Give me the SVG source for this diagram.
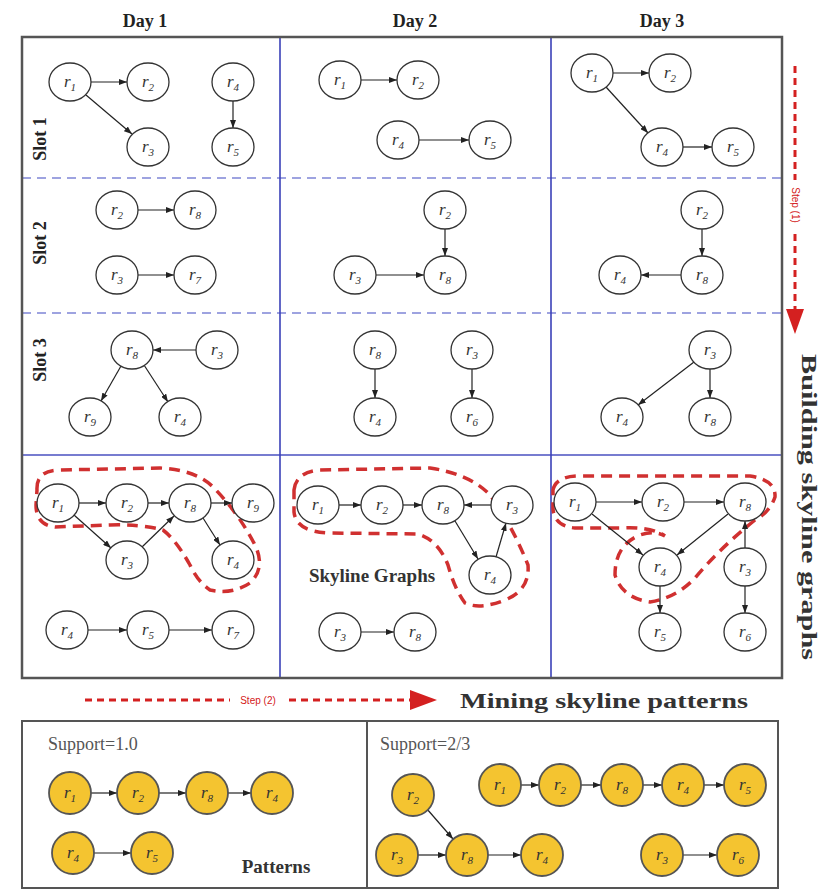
<svg xmlns="http://www.w3.org/2000/svg" width="831" height="894" viewBox="0 0 831 894">
<style>
.n ellipse{fill:#fff;stroke:#333;stroke-width:1.3}
.y circle{fill:#f4c430;stroke:#555;stroke-width:1.8}
.lab{font-family:"Liberation Serif",serif;font-style:italic;font-size:17px;fill:#333;text-anchor:middle}
.sub{font-size:11px}
.e line{stroke:#222;stroke-width:1.2;marker-end:url(#ah)}
.hd{font-family:"Liberation Serif",serif;font-weight:bold;font-size:18px;fill:#222;text-anchor:middle}
.sup{font-family:"Liberation Serif",serif;font-size:18px;fill:#555}
.stp{font-family:"Liberation Sans",sans-serif;font-size:10px;fill:#d42020;text-anchor:middle}
.red{fill:none;stroke:#d03030;stroke-width:3.5;stroke-dasharray:11,7}
</style>
<defs>
<marker id="ah" viewBox="0 0 8 6" refX="8" refY="3" markerWidth="8" markerHeight="6" markerUnits="userSpaceOnUse" orient="auto"><path d="M0,0L8,3L0,6z" fill="#222"/></marker>
</defs>
<rect width="831" height="894" fill="#fff"/>
<!-- headers -->
<text class="hd" x="145" y="27">Day 1</text>
<text class="hd" x="415" y="27">Day 2</text>
<text class="hd" x="662" y="27">Day 3</text>
<!-- grid -->
<g id="grid">
<line x1="22" y1="178" x2="782" y2="178" stroke="#7f85d6" stroke-width="1.6" stroke-dasharray="9,6"/>
<line x1="22" y1="313" x2="782" y2="313" stroke="#7f85d6" stroke-width="1.6" stroke-dasharray="9,6"/>
<line x1="22" y1="455" x2="782" y2="455" stroke="#4a50c0" stroke-width="1.6"/>
<line x1="280" y1="37" x2="280" y2="678" stroke="#3a40b8" stroke-width="1.6"/>
<line x1="551" y1="37" x2="551" y2="678" stroke="#3a40b8" stroke-width="1.6"/>
<rect x="22" y="37" width="760" height="641" fill="none" stroke="#555" stroke-width="2.5"/>
</g>
<text class="hd" transform="translate(46,139) rotate(-90)">Slot 1</text>
<text class="hd" transform="translate(46,243) rotate(-90)">Slot 2</text>
<text class="hd" transform="translate(46,360) rotate(-90)">Slot 3</text>
<!-- red dashed outlines -->
<g id="skyline-outlines">
<path class="red" d="M37,490 Q36,470 60,470 L160,468 Q195,470 212,486 Q238,512 255,545 Q266,568 250,583 Q232,595 210,590 Q198,582 190,565 Q176,540 163,530 Q140,524 110,525 L55,527 Q36,525 36,505 Z"/>
<path class="red" d="M294,490 Q296,472 320,470 L430,468 Q470,474 490,495 Q512,525 528,565 Q530,590 505,600 Q480,610 465,603 Q455,590 448,565 Q438,540 418,534 L330,533 Q296,532 294,512 Z"/>
<path class="red" d="M553,490 Q556,476 580,476 L750,476 Q776,480 775,497 Q770,512 755,520 Q720,548 695,578 Q676,598 650,602 Q622,598 615,575 Q615,545 640,535 Q655,530 665,536 Q650,526 620,528 L575,528 Q552,526 553,505 Z"/>
</g>
<text x="372" y="582" font-family="Liberation Serif,serif" font-weight="bold" font-size="19" fill="#333" text-anchor="middle">Skyline Graphs</text>
<!-- step arrows -->
<g id="step1">
<line x1="795" y1="66" x2="795" y2="310" stroke="#d42020" stroke-width="3" stroke-dasharray="7,5"/>
<polygon points="786,309 804,309 795,334" fill="#d42020"/>
<rect x="788" y="180" width="14" height="50" fill="#fff"/>
<text class="stp" transform="translate(792,205) rotate(90)">Step (1)</text>
</g>
<text transform="translate(802,507) rotate(90)" font-family="Liberation Serif,serif" font-weight="bold" font-size="20" fill="#333" text-anchor="middle" textLength="306" lengthAdjust="spacingAndGlyphs">Building skyline graphs</text>
<g id="step2">
<line x1="85" y1="700" x2="412" y2="700" stroke="#d42020" stroke-width="3" stroke-dasharray="7,5"/>
<polygon points="410,690 410,710 437,700" fill="#d42020"/>
<rect x="230" y="693" width="56" height="14" fill="#fff"/>
<text class="stp" x="258" y="704">Step (2)</text>
</g>
<text x="604" y="708" font-family="Liberation Serif,serif" font-weight="bold" font-size="21" fill="#333" text-anchor="middle" textLength="288" lengthAdjust="spacingAndGlyphs">Mining skyline patterns</text>
<!-- bottom box -->
<rect x="22" y="721" width="756" height="167" fill="none" stroke="#555" stroke-width="2"/>
<line x1="367" y1="721" x2="367" y2="888" stroke="#555" stroke-width="2"/>
<text class="sup" x="48" y="750">Support=1.0</text>
<text class="sup" x="380" y="750">Support=2/3</text>
<text x="276" y="873" font-family="Liberation Serif,serif" font-weight="bold" font-size="19" fill="#333" text-anchor="middle">Patterns</text>

<!-- connectors -->
<g id="connectors" class="e">
<line x1="91" y1="82" x2="127" y2="82"/>
<line x1="86" y1="95" x2="132" y2="134"/>
<line x1="233" y1="101" x2="233" y2="128"/>
<line x1="361" y1="80" x2="397" y2="80"/>
<line x1="419" y1="140" x2="469" y2="140"/>
<line x1="613" y1="73" x2="649" y2="73"/>
<line x1="606" y1="87" x2="648" y2="133"/>
<line x1="683" y1="147" x2="712" y2="147"/>
<line x1="138" y1="210" x2="174" y2="210"/>
<line x1="138" y1="275" x2="174" y2="275"/>
<line x1="445" y1="229" x2="445" y2="256"/>
<line x1="376" y1="275" x2="424" y2="275"/>
<line x1="702" y1="229" x2="702" y2="256"/>
<line x1="681" y1="275" x2="641" y2="275"/>
<line x1="196" y1="350" x2="153" y2="350"/>
<line x1="121" y1="366" x2="101" y2="401"/>
<line x1="144" y1="365" x2="168" y2="402"/>
<line x1="375" y1="369" x2="375" y2="398"/>
<line x1="472" y1="369" x2="472" y2="398"/>
<line x1="694" y1="362" x2="638" y2="405"/>
<line x1="710" y1="369" x2="710" y2="398"/>
<line x1="79" y1="503" x2="106" y2="503"/>
<line x1="148" y1="503" x2="169" y2="503"/>
<line x1="211" y1="503" x2="232" y2="503"/>
<line x1="74" y1="515" x2="111" y2="548"/>
<line x1="142" y1="547" x2="174" y2="516"/>
<line x1="203" y1="518" x2="220" y2="545"/>
<line x1="88" y1="630" x2="127" y2="630"/>
<line x1="169" y1="630" x2="212" y2="630"/>
<line x1="339" y1="505" x2="361" y2="505"/>
<line x1="403" y1="505" x2="422" y2="505"/>
<line x1="491" y1="505" x2="464" y2="505"/>
<line x1="455" y1="521" x2="478" y2="559"/>
<line x1="496" y1="557" x2="506" y2="523"/>
<line x1="361" y1="632" x2="394" y2="632"/>
<line x1="596" y1="502" x2="642" y2="502"/>
<line x1="684" y1="502" x2="724" y2="502"/>
<line x1="592" y1="514" x2="643" y2="555"/>
<line x1="728" y1="514" x2="677" y2="555"/>
<line x1="745" y1="548" x2="745" y2="521"/>
<line x1="660" y1="586" x2="660" y2="613"/>
<line x1="745" y1="586" x2="745" y2="613"/>
<line x1="91" y1="793" x2="117" y2="793"/>
<line x1="159" y1="793" x2="186" y2="793"/>
<line x1="228" y1="793" x2="251" y2="793"/>
<line x1="94" y1="853" x2="131" y2="853"/>
<line x1="427" y1="809" x2="453" y2="839"/>
<line x1="418" y1="855" x2="446" y2="855"/>
<line x1="488" y1="855" x2="521" y2="855"/>
<line x1="521" y1="785" x2="539" y2="785"/>
<line x1="581" y1="785" x2="601" y2="785"/>
<line x1="643" y1="785" x2="662" y2="785"/>
<line x1="704" y1="785" x2="724" y2="785"/>
<line x1="683" y1="855" x2="717" y2="855"/>
</g>

<!-- nodes: Day1 slot1 -->
<g id="d1s1-r1" class="n"><ellipse cx="70" cy="82" rx="21" ry="19"/><text class="lab" x="70" y="87">r<tspan class="sub" dy="4">1</tspan></text></g>
<g id="d1s1-r2" class="n"><ellipse cx="148" cy="82" rx="21" ry="19"/><text class="lab" x="148" y="87">r<tspan class="sub" dy="4">2</tspan></text></g>
<g id="d1s1-r3" class="n"><ellipse cx="148" cy="147" rx="21" ry="19"/><text class="lab" x="148" y="152">r<tspan class="sub" dy="4">3</tspan></text></g>
<g id="d1s1-r4" class="n"><ellipse cx="233" cy="82" rx="21" ry="19"/><text class="lab" x="233" y="87">r<tspan class="sub" dy="4">4</tspan></text></g>
<g id="d1s1-r5" class="n"><ellipse cx="233" cy="147" rx="21" ry="19"/><text class="lab" x="233" y="152">r<tspan class="sub" dy="4">5</tspan></text></g>
<!-- Day2 slot1 -->
<g id="d2s1-r1" class="n"><ellipse cx="340" cy="80" rx="21" ry="19"/><text class="lab" x="340" y="85">r<tspan class="sub" dy="4">1</tspan></text></g>
<g id="d2s1-r2" class="n"><ellipse cx="418" cy="80" rx="21" ry="19"/><text class="lab" x="418" y="85">r<tspan class="sub" dy="4">2</tspan></text></g>
<g id="d2s1-r4" class="n"><ellipse cx="398" cy="140" rx="21" ry="19"/><text class="lab" x="398" y="145">r<tspan class="sub" dy="4">4</tspan></text></g>
<g id="d2s1-r5" class="n"><ellipse cx="490" cy="140" rx="21" ry="19"/><text class="lab" x="490" y="145">r<tspan class="sub" dy="4">5</tspan></text></g>
<!-- Day3 slot1 -->
<g id="d3s1-r1" class="n"><ellipse cx="592" cy="73" rx="21" ry="19"/><text class="lab" x="592" y="78">r<tspan class="sub" dy="4">1</tspan></text></g>
<g id="d3s1-r2" class="n"><ellipse cx="670" cy="73" rx="21" ry="19"/><text class="lab" x="670" y="78">r<tspan class="sub" dy="4">2</tspan></text></g>
<g id="d3s1-r4" class="n"><ellipse cx="662" cy="147" rx="21" ry="19"/><text class="lab" x="662" y="152">r<tspan class="sub" dy="4">4</tspan></text></g>
<g id="d3s1-r5" class="n"><ellipse cx="733" cy="147" rx="21" ry="19"/><text class="lab" x="733" y="152">r<tspan class="sub" dy="4">5</tspan></text></g>
<!-- slot2 -->
<g id="d1s2-r2" class="n"><ellipse cx="117" cy="210" rx="21" ry="19"/><text class="lab" x="117" y="215">r<tspan class="sub" dy="4">2</tspan></text></g>
<g id="d1s2-r8" class="n"><ellipse cx="195" cy="210" rx="21" ry="19"/><text class="lab" x="195" y="215">r<tspan class="sub" dy="4">8</tspan></text></g>
<g id="d1s2-r3" class="n"><ellipse cx="117" cy="275" rx="21" ry="19"/><text class="lab" x="117" y="280">r<tspan class="sub" dy="4">3</tspan></text></g>
<g id="d1s2-r7" class="n"><ellipse cx="195" cy="275" rx="21" ry="19"/><text class="lab" x="195" y="280">r<tspan class="sub" dy="4">7</tspan></text></g>
<g id="d2s2-r2" class="n"><ellipse cx="445" cy="210" rx="21" ry="19"/><text class="lab" x="445" y="215">r<tspan class="sub" dy="4">2</tspan></text></g>
<g id="d2s2-r8" class="n"><ellipse cx="445" cy="275" rx="21" ry="19"/><text class="lab" x="445" y="280">r<tspan class="sub" dy="4">8</tspan></text></g>
<g id="d2s2-r3" class="n"><ellipse cx="355" cy="275" rx="21" ry="19"/><text class="lab" x="355" y="280">r<tspan class="sub" dy="4">3</tspan></text></g>
<g id="d3s2-r2" class="n"><ellipse cx="702" cy="210" rx="21" ry="19"/><text class="lab" x="702" y="215">r<tspan class="sub" dy="4">2</tspan></text></g>
<g id="d3s2-r8" class="n"><ellipse cx="702" cy="275" rx="21" ry="19"/><text class="lab" x="702" y="280">r<tspan class="sub" dy="4">8</tspan></text></g>
<g id="d3s2-r4" class="n"><ellipse cx="620" cy="275" rx="21" ry="19"/><text class="lab" x="620" y="280">r<tspan class="sub" dy="4">4</tspan></text></g>
<!-- slot3 -->
<g id="d1s3-r8" class="n"><ellipse cx="132" cy="350" rx="21" ry="19"/><text class="lab" x="132" y="355">r<tspan class="sub" dy="4">8</tspan></text></g>
<g id="d1s3-r3" class="n"><ellipse cx="217" cy="350" rx="21" ry="19"/><text class="lab" x="217" y="355">r<tspan class="sub" dy="4">3</tspan></text></g>
<g id="d1s3-r9" class="n"><ellipse cx="90" cy="417" rx="21" ry="19"/><text class="lab" x="90" y="422">r<tspan class="sub" dy="4">9</tspan></text></g>
<g id="d1s3-r4" class="n"><ellipse cx="180" cy="417" rx="21" ry="19"/><text class="lab" x="180" y="422">r<tspan class="sub" dy="4">4</tspan></text></g>
<g id="d2s3-r8" class="n"><ellipse cx="375" cy="350" rx="21" ry="19"/><text class="lab" x="375" y="355">r<tspan class="sub" dy="4">8</tspan></text></g>
<g id="d2s3-r4" class="n"><ellipse cx="375" cy="417" rx="21" ry="19"/><text class="lab" x="375" y="422">r<tspan class="sub" dy="4">4</tspan></text></g>
<g id="d2s3-r3" class="n"><ellipse cx="472" cy="350" rx="21" ry="19"/><text class="lab" x="472" y="355">r<tspan class="sub" dy="4">3</tspan></text></g>
<g id="d2s3-r6" class="n"><ellipse cx="472" cy="417" rx="21" ry="19"/><text class="lab" x="472" y="422">r<tspan class="sub" dy="4">6</tspan></text></g>
<g id="d3s3-r3" class="n"><ellipse cx="710" cy="350" rx="21" ry="19"/><text class="lab" x="710" y="355">r<tspan class="sub" dy="4">3</tspan></text></g>
<g id="d3s3-r4" class="n"><ellipse cx="622" cy="417" rx="21" ry="19"/><text class="lab" x="622" y="422">r<tspan class="sub" dy="4">4</tspan></text></g>
<g id="d3s3-r8" class="n"><ellipse cx="710" cy="417" rx="21" ry="19"/><text class="lab" x="710" y="422">r<tspan class="sub" dy="4">8</tspan></text></g>
<!-- skyline day1 -->
<g id="d1k-r1" class="n"><ellipse cx="58" cy="503" rx="21" ry="19"/><text class="lab" x="58" y="508">r<tspan class="sub" dy="4">1</tspan></text></g>
<g id="d1k-r2" class="n"><ellipse cx="127" cy="503" rx="21" ry="19"/><text class="lab" x="127" y="508">r<tspan class="sub" dy="4">2</tspan></text></g>
<g id="d1k-r8" class="n"><ellipse cx="190" cy="503" rx="21" ry="19"/><text class="lab" x="190" y="508">r<tspan class="sub" dy="4">8</tspan></text></g>
<g id="d1k-r9" class="n"><ellipse cx="253" cy="503" rx="21" ry="19"/><text class="lab" x="253" y="508">r<tspan class="sub" dy="4">9</tspan></text></g>
<g id="d1k-r3" class="n"><ellipse cx="127" cy="560" rx="21" ry="19"/><text class="lab" x="127" y="565">r<tspan class="sub" dy="4">3</tspan></text></g>
<g id="d1k-r4" class="n"><ellipse cx="233" cy="560" rx="21" ry="19"/><text class="lab" x="233" y="565">r<tspan class="sub" dy="4">4</tspan></text></g>
<g id="d1k-r4b" class="n"><ellipse cx="67" cy="630" rx="21" ry="19"/><text class="lab" x="67" y="635">r<tspan class="sub" dy="4">4</tspan></text></g>
<g id="d1k-r5" class="n"><ellipse cx="148" cy="630" rx="21" ry="19"/><text class="lab" x="148" y="635">r<tspan class="sub" dy="4">5</tspan></text></g>
<g id="d1k-r7" class="n"><ellipse cx="233" cy="630" rx="21" ry="19"/><text class="lab" x="233" y="635">r<tspan class="sub" dy="4">7</tspan></text></g>
<!-- skyline day2 -->
<g id="d2k-r1" class="n"><ellipse cx="318" cy="505" rx="21" ry="19"/><text class="lab" x="318" y="510">r<tspan class="sub" dy="4">1</tspan></text></g>
<g id="d2k-r2" class="n"><ellipse cx="382" cy="505" rx="21" ry="19"/><text class="lab" x="382" y="510">r<tspan class="sub" dy="4">2</tspan></text></g>
<g id="d2k-r8" class="n"><ellipse cx="443" cy="505" rx="21" ry="19"/><text class="lab" x="443" y="510">r<tspan class="sub" dy="4">8</tspan></text></g>
<g id="d2k-r3" class="n"><ellipse cx="512" cy="505" rx="21" ry="19"/><text class="lab" x="512" y="510">r<tspan class="sub" dy="4">3</tspan></text></g>
<g id="d2k-r4" class="n"><ellipse cx="490" cy="575" rx="21" ry="19"/><text class="lab" x="490" y="580">r<tspan class="sub" dy="4">4</tspan></text></g>
<g id="d2k-r3b" class="n"><ellipse cx="340" cy="632" rx="21" ry="19"/><text class="lab" x="340" y="637">r<tspan class="sub" dy="4">3</tspan></text></g>
<g id="d2k-r8b" class="n"><ellipse cx="415" cy="632" rx="21" ry="19"/><text class="lab" x="415" y="637">r<tspan class="sub" dy="4">8</tspan></text></g>
<!-- skyline day3 -->
<g id="d3k-r1" class="n"><ellipse cx="575" cy="502" rx="21" ry="19"/><text class="lab" x="575" y="507">r<tspan class="sub" dy="4">1</tspan></text></g>
<g id="d3k-r2" class="n"><ellipse cx="663" cy="502" rx="21" ry="19"/><text class="lab" x="663" y="507">r<tspan class="sub" dy="4">2</tspan></text></g>
<g id="d3k-r8" class="n"><ellipse cx="745" cy="502" rx="21" ry="19"/><text class="lab" x="745" y="507">r<tspan class="sub" dy="4">8</tspan></text></g>
<g id="d3k-r4" class="n"><ellipse cx="660" cy="567" rx="21" ry="19"/><text class="lab" x="660" y="572">r<tspan class="sub" dy="4">4</tspan></text></g>
<g id="d3k-r3" class="n"><ellipse cx="745" cy="567" rx="21" ry="19"/><text class="lab" x="745" y="572">r<tspan class="sub" dy="4">3</tspan></text></g>
<g id="d3k-r5" class="n"><ellipse cx="660" cy="632" rx="21" ry="19"/><text class="lab" x="660" y="637">r<tspan class="sub" dy="4">5</tspan></text></g>
<g id="d3k-r6" class="n"><ellipse cx="745" cy="632" rx="21" ry="19"/><text class="lab" x="745" y="637">r<tspan class="sub" dy="4">6</tspan></text></g>
<!-- patterns support 1.0 -->
<g id="p1-r1" class="y"><circle cx="70" cy="793" r="21"/><text class="lab" x="70" y="798">r<tspan class="sub" dy="4">1</tspan></text></g>
<g id="p1-r2" class="y"><circle cx="138" cy="793" r="21"/><text class="lab" x="138" y="798">r<tspan class="sub" dy="4">2</tspan></text></g>
<g id="p1-r8" class="y"><circle cx="207" cy="793" r="21"/><text class="lab" x="207" y="798">r<tspan class="sub" dy="4">8</tspan></text></g>
<g id="p1-r4" class="y"><circle cx="272" cy="793" r="21"/><text class="lab" x="272" y="798">r<tspan class="sub" dy="4">4</tspan></text></g>
<g id="p1-r4b" class="y"><circle cx="73" cy="853" r="21"/><text class="lab" x="73" y="858">r<tspan class="sub" dy="4">4</tspan></text></g>
<g id="p1-r5" class="y"><circle cx="152" cy="853" r="21"/><text class="lab" x="152" y="858">r<tspan class="sub" dy="4">5</tspan></text></g>
<!-- patterns support 2/3 -->
<g id="p2-r2a" class="y"><circle cx="413" cy="795" r="21"/><text class="lab" x="413" y="800">r<tspan class="sub" dy="4">2</tspan></text></g>
<g id="p2-r3a" class="y"><circle cx="397" cy="855" r="21"/><text class="lab" x="397" y="860">r<tspan class="sub" dy="4">3</tspan></text></g>
<g id="p2-r8a" class="y"><circle cx="467" cy="855" r="21"/><text class="lab" x="467" y="860">r<tspan class="sub" dy="4">8</tspan></text></g>
<g id="p2-r4a" class="y"><circle cx="542" cy="855" r="21"/><text class="lab" x="542" y="860">r<tspan class="sub" dy="4">4</tspan></text></g>
<g id="p2-r1" class="y"><circle cx="500" cy="785" r="21"/><text class="lab" x="500" y="790">r<tspan class="sub" dy="4">1</tspan></text></g>
<g id="p2-r2" class="y"><circle cx="560" cy="785" r="21"/><text class="lab" x="560" y="790">r<tspan class="sub" dy="4">2</tspan></text></g>
<g id="p2-r8" class="y"><circle cx="622" cy="785" r="21"/><text class="lab" x="622" y="790">r<tspan class="sub" dy="4">8</tspan></text></g>
<g id="p2-r4" class="y"><circle cx="683" cy="785" r="21"/><text class="lab" x="683" y="790">r<tspan class="sub" dy="4">4</tspan></text></g>
<g id="p2-r5" class="y"><circle cx="745" cy="785" r="21"/><text class="lab" x="745" y="790">r<tspan class="sub" dy="4">5</tspan></text></g>
<g id="p2-r3" class="y"><circle cx="662" cy="855" r="21"/><text class="lab" x="662" y="860">r<tspan class="sub" dy="4">3</tspan></text></g>
<g id="p2-r6" class="y"><circle cx="738" cy="855" r="21"/><text class="lab" x="738" y="860">r<tspan class="sub" dy="4">6</tspan></text></g>
</svg>
